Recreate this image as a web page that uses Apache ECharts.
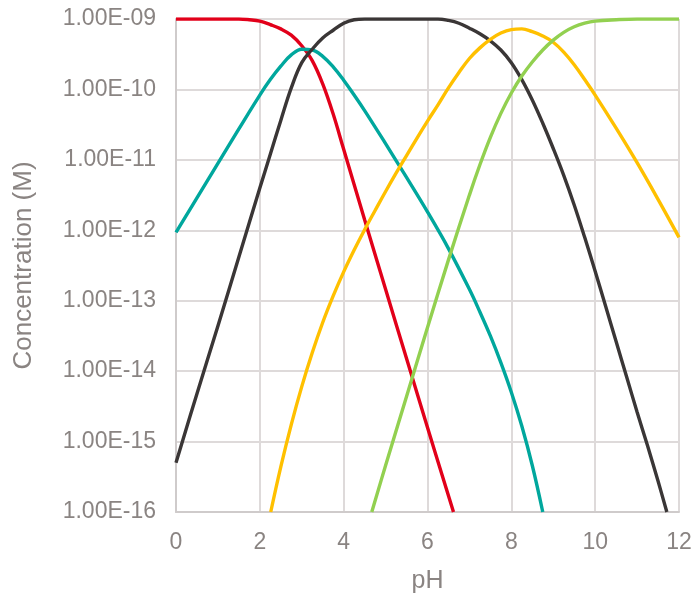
<!DOCTYPE html>
<html>
<head>
<meta charset="utf-8">
<script src="https://cdn.jsdelivr.net/npm/echarts@6/dist/echarts.min.js"></script>
<style>
html,body{margin:0;padding:0;background:#fff;}
#chart{width:696px;height:599px;}
</style>
</head>
<body>
<div id="chart"></div>
<script>
// pH values and concentrations (M)
const redPH    = [0, 0.5, 1, 1.5, 1.75, 2, 2.25, 2.5, 2.75, 3, 3.25, 3.5, 3.75, 4, 4.5, 5, 5.5, 6, 6.62];
const redConc  = [1.00e-9, 1.00e-9, 1.00e-9, 1.00e-9, 9.77e-10, 9.33e-10, 8.32e-10, 7.24e-10, 5.89e-10, 4.17e-10, 2.57e-10, 1.20e-10, 4.47e-11, 1.41e-11, 1.41e-12, 1.45e-13, 1.51e-14, 1.58e-15, 1.00e-16];

const tealPH   = [0, 0.5, 1, 1.5, 2, 2.25, 2.5, 2.75, 3, 3.25, 3.5, 3.75, 4, 4.25, 4.5, 5, 5.5, 6, 6.5, 7, 7.25, 7.5, 7.75, 8, 8.25, 8.5, 8.75];
const tealConc = [9.33e-13, 2.88e-12, 8.91e-12, 2.75e-11, 8.32e-11, 1.38e-10, 2.14e-10, 3.09e-10, 3.72e-10, 3.63e-10, 2.95e-10, 2.09e-10, 1.35e-10, 8.32e-11, 5.01e-11, 1.70e-11, 5.62e-12, 1.82e-12, 5.50e-13, 1.45e-13, 6.92e-14, 3.16e-14, 1.32e-14, 5.01e-15, 1.66e-15, 4.57e-16, 1.00e-16];

const blackPH   = [0, 0.5, 1, 1.5, 2, 2.25, 2.5, 2.75, 3, 3.25, 3.5, 3.75, 4, 4.25, 4.5, 5, 5.5, 6, 6.25, 6.5, 6.75, 7, 7.25, 7.5, 7.75, 8, 8.25, 8.5, 8.75, 9, 9.25, 9.5, 9.75, 10, 10.25, 10.5, 10.75, 11, 11.25, 11.5, 11.71];
const blackConc = [5.01e-16, 4.79e-15, 4.37e-14, 4.17e-13, 3.98e-12, 1.20e-11, 3.63e-11, 1.05e-10, 2.40e-10, 3.72e-10, 5.37e-10, 6.92e-10, 8.71e-10, 9.77e-10, 1.00e-9, 1.00e-9, 1.00e-9, 1.00e-9, 1.00e-9, 9.55e-10, 8.71e-10, 7.41e-10, 6.17e-10, 4.90e-10, 3.63e-10, 2.40e-10, 1.38e-10, 7.08e-11, 3.31e-11, 1.45e-11, 6.03e-12, 2.29e-12, 7.94e-13, 2.63e-13, 8.32e-14, 2.63e-14, 8.32e-15, 2.63e-15, 8.71e-16, 2.75e-16, 1.00e-16];

const yellowPH   = [2.26, 2.5, 2.75, 3, 3.25, 3.5, 3.75, 4, 4.25, 4.5, 4.75, 5, 5.25, 5.5, 5.75, 6, 6.25, 6.5, 6.75, 7, 7.25, 7.5, 7.75, 8, 8.25, 8.5, 8.75, 9, 9.25, 9.5, 9.75, 10, 10.5, 11, 11.5, 12];
const yellowConc = [1.00e-16, 4.37e-16, 1.74e-15, 6.03e-15, 1.82e-14, 4.90e-14, 1.17e-13, 2.57e-13, 5.25e-13, 1.02e-12, 1.91e-12, 3.55e-12, 6.46e-12, 1.15e-11, 2.04e-11, 3.55e-11, 6.03e-11, 1.05e-10, 1.74e-10, 2.75e-10, 3.89e-10, 5.13e-10, 6.31e-10, 7.08e-10, 7.24e-10, 6.61e-10, 5.75e-10, 4.68e-10, 3.39e-10, 2.24e-10, 1.38e-10, 8.32e-11, 2.82e-11, 9.12e-12, 2.75e-12, 7.94e-13];

const greenPH   = [4.67, 5, 5.5, 6, 6.5, 7, 7.25, 7.5, 7.75, 8, 8.25, 8.5, 8.75, 9, 9.25, 9.5, 9.75, 10, 10.5, 11, 11.5, 12];
const greenConc = [1.00e-16, 4.57e-16, 4.37e-15, 4.17e-14, 3.80e-13, 3.16e-12, 8.51e-12, 2.09e-11, 4.57e-11, 8.91e-11, 1.55e-10, 2.45e-10, 3.63e-10, 5.01e-10, 6.46e-10, 7.76e-10, 8.71e-10, 9.33e-10, 9.77e-10, 1.00e-9, 1.00e-9, 1.00e-9];

const xTicks = [0, 2, 4, 6, 8, 10, 12];
const yMin = 1e-16, yMax = 1e-9;

const pairs = (xs, ys) => xs.map((x, i) => [x, ys[i]]);
const textColor = '#8a8482';
const gridColor = '#dedada';
const axisColor = '#cfcbcb';
const font = '"Liberation Sans", Arial, sans-serif';

function sciLabel(v) {
  const e = Math.round(Math.log10(v));
  return '1.00E' + (e < 0 ? '-' : '+') + String(Math.abs(e)).padStart(2, '0');
}

function lineSeries(name, data, color) {
  return {
    name: name, type: 'line', data: data, smooth: 0.4,
    showSymbol: false, symbol: 'none', clip: true,
    lineStyle: { color: color, width: 3.4 },
    itemStyle: { color: color }
  };
}

const chart = echarts.init(document.getElementById('chart'), null, { renderer: 'canvas' });
chart.setOption({
  animation: false,
  backgroundColor: '#ffffff',
  grid: { left: 176, right: 17, top: 19, bottom: 82, containLabel: false },
  xAxis: {
    type: 'value', min: xTicks[0], max: xTicks[xTicks.length - 1], interval: 2,
    name: 'pH', nameLocation: 'middle', nameGap: 57,
    nameTextStyle: { color: textColor, fontSize: 25, fontFamily: font },
    axisLine: { show: true, lineStyle: { color: axisColor, width: 2 } },
    axisTick: { show: false },
    axisLabel: { color: textColor, fontSize: 23, fontFamily: font, margin: 19 },
    splitLine: { show: true, lineStyle: { color: gridColor, width: 2 } }
  },
  yAxis: {
    type: 'log', logBase: 10, min: yMin, max: yMax,
    name: 'Concentration (M)', nameLocation: 'middle', nameGap: 139,
    nameTextStyle: { color: textColor, fontSize: 26, fontFamily: font },
    axisLine: { show: true, lineStyle: { color: axisColor, width: 2 } },
    axisTick: { show: false },
    axisLabel: { color: textColor, fontSize: 23, fontFamily: font, margin: 20, formatter: sciLabel },
    splitLine: { show: true, lineStyle: { color: gridColor, width: 2 } }
  },
  series: [
    lineSeries('H4A', pairs(redPH, redConc), '#e2001a'),
    lineSeries('H3A', pairs(tealPH, tealConc), '#00a79d'),
    lineSeries('H2A', pairs(blackPH, blackConc), '#3a3636'),
    lineSeries('HA', pairs(yellowPH, yellowConc), '#ffc000'),
    lineSeries('A', pairs(greenPH, greenConc), '#92d050')
  ]
});
</script>
</body>
</html>
